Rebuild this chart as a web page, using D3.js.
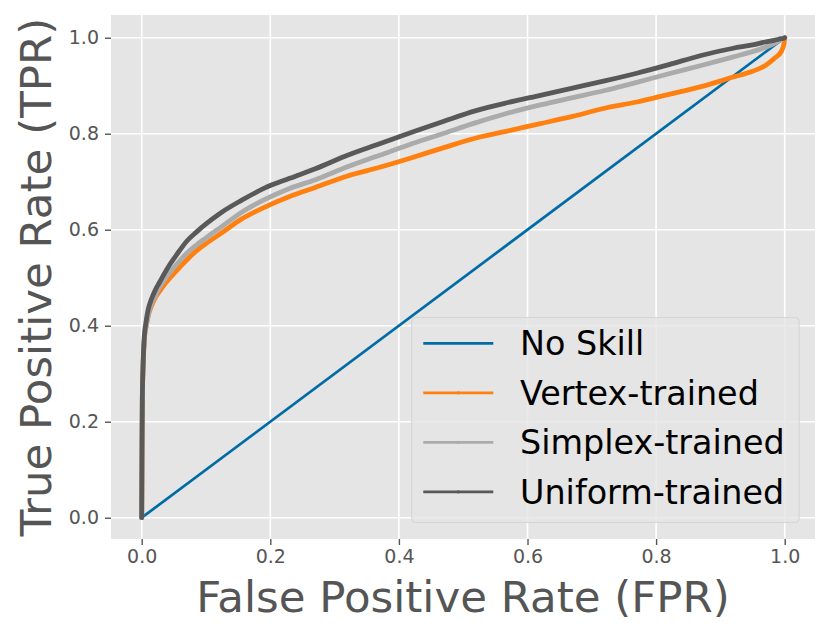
<!DOCTYPE html>
<html>
<head>
<meta charset="utf-8">
<script src="https://cdn.jsdelivr.net/npm/d3@7"></script>
<style>
  body { margin: 0; background: #fff; }
  svg { display: block; font-family: "DejaVu Sans", sans-serif; }
</style>
</head>
<body>
<svg width="830" height="638"></svg>
<script>
// ROC curves (shared FPR grid)
var fpr = [0, 0.0005, 0.001, 0.002, 0.004, 0.007, 0.010, 0.015, 0.021, 0.028, 0.035, 0.045, 0.055, 0.070, 0.085, 0.100, 0.125, 0.155, 0.19, 0.23, 0.27, 0.32, 0.37, 0.42, 0.47, 0.52, 0.57, 0.62, 0.67, 0.72, 0.77, 0.82, 0.87, 0.92, 0.95, 0.97, 0.985, 0.995, 0.999, 1.0];
var tprVertex = [0, 0.15, 0.25, 0.31, 0.37, 0.40, 0.42, 0.44, 0.458, 0.472, 0.485, 0.501, 0.516, 0.537, 0.556, 0.571, 0.594, 0.622, 0.646, 0.669, 0.688, 0.712, 0.730, 0.750, 0.771, 0.791, 0.806, 0.821, 0.836, 0.853, 0.866, 0.882, 0.898, 0.918, 0.930, 0.942, 0.958, 0.972, 0.988, 1.0];
var tprSimplex = [0, 0.15, 0.25, 0.31, 0.37, 0.40, 0.42, 0.445, 0.462, 0.481, 0.495, 0.513, 0.529, 0.551, 0.568, 0.583, 0.607, 0.636, 0.662, 0.686, 0.704, 0.731, 0.755, 0.779, 0.801, 0.823, 0.843, 0.860, 0.875, 0.890, 0.907, 0.925, 0.942, 0.960, 0.971, 0.980, 0.989, 0.996, 0.999, 1.0];
var tprUniform = [0, 0.15, 0.25, 0.31, 0.377, 0.41, 0.433, 0.455, 0.474, 0.491, 0.508, 0.530, 0.549, 0.576, 0.595, 0.612, 0.637, 0.661, 0.686, 0.707, 0.727, 0.755, 0.779, 0.803, 0.826, 0.848, 0.865, 0.880, 0.895, 0.910, 0.926, 0.944, 0.963, 0.978, 0.985, 0.991, 0.995, 0.998, 0.999, 1.0];
var noSkill = [0, 1];
var seriesNames = ["No Skill", "Vertex-trained", "Simplex-trained", "Uniform-trained"];
var ticks = [0.0, 0.2, 0.4, 0.6, 0.8, 1.0];

var svg = d3.select("svg"),
    plot = {left: 111, right: 815, top: 15, bottom: 539};

var colors = d3.scaleOrdinal()
   .domain(seriesNames)
   .range(["#006BA4", "#FF800E", "#ABABAB", "#595959"]);

// data 0..1 mapped so that the 0.05 margins fall on the frame
var x = d3.scaleLinear().domain([0, 1]).range([141.7, 784.7]);
var y = d3.scaleLinear().domain([0, 1]).range([517.7, 37.7]);

svg.append("rect")
   .attr("x", plot.left).attr("y", plot.top)
   .attr("width", plot.right - plot.left)
   .attr("height", plot.bottom - plot.top)
   .attr("fill", "#E5E5E5");

// grid
var grid = svg.append("g").attr("stroke", "#fff").attr("stroke-width", 1.6);
grid.selectAll(".vx").data(ticks).enter().append("line")
   .attr("x1", x).attr("x2", x)
   .attr("y1", plot.top).attr("y2", plot.bottom);
grid.selectAll(".hy").data(ticks).enter().append("line")
   .attr("y1", y).attr("y2", y)
   .attr("x1", plot.left).attr("x2", plot.right);

// axes
var xAxis = svg.append("g")
   .attr("transform", "translate(0," + plot.bottom + ")")
   .call(d3.axisBottom(x).tickValues(ticks).tickFormat(d3.format(".1f")).tickSize(6).tickPadding(5));
var yAxis = svg.append("g")
   .attr("transform", "translate(" + plot.left + ",0)")
   .call(d3.axisLeft(y).tickValues(ticks).tickFormat(d3.format(".1f")).tickSize(6).tickPadding(6));
[xAxis, yAxis].forEach(function(a) {
  a.select(".domain").remove();
  a.selectAll(".tick line").attr("stroke", "#555").attr("stroke-width", 1.4);
  a.selectAll(".tick text").attr("fill", "#555").attr("font-size", 19)
   .attr("font-family", "DejaVu Sans");
});

// curves
var line = d3.line()
   .x(function(d) { return x(d[0]); })
   .y(function(d) { return y(d[1]); });

svg.append("path")
   .datum([[noSkill[0], noSkill[0]], [noSkill[1], noSkill[1]]])
   .attr("d", line)
   .attr("fill", "none")
   .attr("stroke", colors("No Skill"))
   .attr("stroke-width", 2.7);

var curves = [
  {name: "Vertex-trained", tpr: tprVertex},
  {name: "Simplex-trained", tpr: tprSimplex},
  {name: "Uniform-trained", tpr: tprUniform}
];
curves.forEach(function(c) {
  svg.append("path")
     .datum(fpr.map(function(f, i) { return [f, c.tpr[i]]; }))
     .attr("d", line.curve(d3.curveMonotoneX))
     .attr("fill", "none")
     .attr("stroke", colors(c.name))
     .attr("stroke-width", 4.8)
     .attr("stroke-linejoin", "round")
     .attr("stroke-linecap", "round");
});
line.curve(d3.curveLinear);

// legend
var legend = svg.append("g");
legend.append("rect")
   .attr("x", 411.7).attr("y", 317.5)
   .attr("width", 387.5).attr("height", 205)
   .attr("rx", 4)
   .attr("fill", "rgba(229,229,229,0.8)")
   .attr("stroke", "#D4D4D4")
   .attr("stroke-width", 1);

var items = legend.selectAll(".item")
   .data(seriesNames)
   .enter().append("g")
   .attr("transform", function(d, i) { return "translate(0," + (343.3 + i * 49.5) + ")"; });
items.append("line")
   .attr("x1", 423.3).attr("x2", 493.3)
   .attr("stroke", colors)
   .attr("stroke-width", 2.7);
items.filter(function(d, i) { return i > 0; }).append("circle")
   .attr("cx", 458.3).attr("r", 1.6)
   .attr("fill", colors);
items.append("text")
   .attr("x", 520)
   .attr("dy", "0.36em")
   .attr("font-size", 33.4)
   .attr("fill", "#000")
   .text(function(d) { return d; });

// axis titles
svg.append("text")
   .attr("x", (plot.left + plot.right) / 2)
   .attr("y", 612)
   .attr("text-anchor", "middle")
   .attr("font-size", 43.5)
   .attr("fill", "#555")
   .text("False Positive Rate (FPR)");
svg.append("text")
   .attr("transform", "translate(51," + (plot.top + plot.bottom) / 2 + ") rotate(-90)")
   .attr("text-anchor", "middle")
   .attr("font-size", 43.5)
   .attr("fill", "#555")
   .text("True Positive Rate (TPR)");
</script>
</body>
</html>
